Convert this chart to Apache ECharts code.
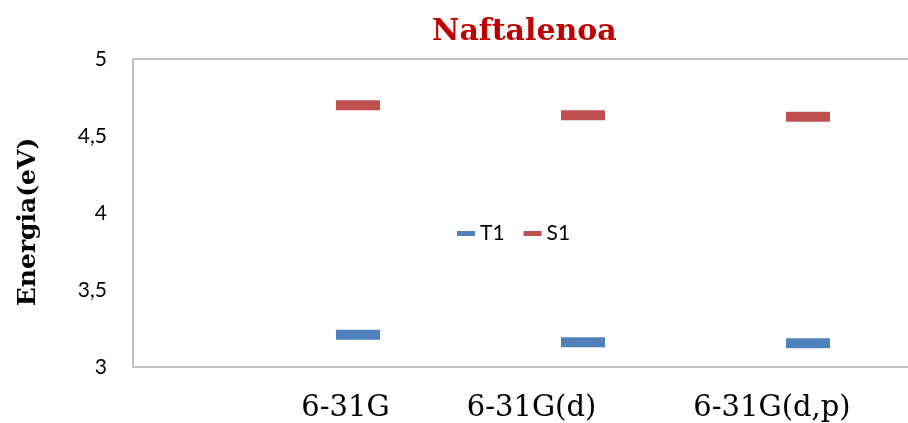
<!DOCTYPE html>
<html>
<head>
<meta charset="utf-8">
<script src="https://cdn.jsdelivr.net/npm/echarts@6/dist/echarts.min.js"></script>
<style>
  html, body { margin: 0; padding: 0; background: #fff; }
  #chart { width: 908px; height: 423px; }
</style>
</head>
<body>
<div id="chart"></div>
<script>
// Basis sets along the x axis
const categories = ['6-31G', '6-31G(d)', '6-31G(d,p)'];
// Excitation energies (eV)
const t1 = [3.21, 3.16, 3.155];
const s1 = [4.70, 4.635, 4.625];
// Energy axis
const yMin = 3, yMax = 5, yStep = 0.5;

// One empty slot on each side keeps the basis sets off the plot edges
const axisCats = [''].concat(categories, ['']);

const labelShift = [0, 25, 103, 72];
const rich = {};
labelShift.forEach((p, i) => {
  rich['c' + i] = {
    fontFamily: 'DejaVu Serif', fontSize: 29, color: '#000',
    padding: [0, p, 0, 0]
  };
});

const grey = '#BFBFBF';
const chart = echarts.init(document.getElementById('chart'));
chart.setOption({
  animation: false,
  backgroundColor: '#fff',
  title: {
    text: 'Naftalenoa',
    left: 427,
    top: 12,
    textStyle: { fontFamily: 'DejaVu Serif', fontWeight: 'bold', fontSize: 30, color: '#C00000' }
  },
  legend: {
    left: 452,
    top: 218,
    icon: 'rect',
    itemWidth: 18,
    itemHeight: 5,
    itemGap: 19,
    textStyle: { fontFamily: 'Lato', fontSize: 21, color: '#000' },
    data: ['T1', 'S1']
  },
  grid: { left: 133, top: 59, width: 900, bottom: 56, containLabel: false, outerBoundsMode: 'none' },
  xAxis: [{
    type: 'category',
    data: axisCats,
    boundaryGap: false,
    axisLine: { show: true, lineStyle: { color: grey, width: 2 } },
    axisTick: { show: false },
    splitLine: { show: false },
    axisLabel: {
      interval: 0,
      margin: 27,
      formatter: (v, i) => v ? '{c' + i + '|' + v + '}' : '',
      rich: rich
    }
  }, {
    type: 'category',
    position: 'top',
    data: axisCats,
    boundaryGap: false,
    axisLine: { show: true, lineStyle: { color: grey, width: 2 } },
    axisTick: { show: false },
    axisLabel: { show: false }
  }],
  yAxis: {
    type: 'value',
    min: yMin,
    max: yMax,
    interval: yStep,
    name: 'Energia(eV)',
    nameLocation: 'middle',
    nameRotate: 90,
    nameGap: 92,
    nameTextStyle: {
      fontFamily: 'DejaVu Serif', fontWeight: 'bold', fontSize: 25, color: '#000',
      padding: [0, 18, 0, 0]
    },
    axisLine: { show: true, lineStyle: { color: grey, width: 2 } },
    axisTick: { show: false },
    splitLine: { show: false },
    axisLabel: {
      margin: 26,
      fontFamily: 'Lato', fontSize: 21, color: '#000',
      formatter: v => String(v).replace('.', ',')
    }
  },
  series: [{
    name: 'T1',
    type: 'scatter',
    symbol: 'rect',
    symbolSize: [44, 10],
    itemStyle: { color: '#4F81BD', opacity: 1 },
    data: categories.map((c, i) => [c, t1[i]])
  }, {
    name: 'S1',
    type: 'scatter',
    symbol: 'rect',
    symbolSize: [44, 10],
    itemStyle: { color: '#C0504D', opacity: 1 },
    data: categories.map((c, i) => [c, s1[i]])
  }]
});
</script>
</body>
</html>
